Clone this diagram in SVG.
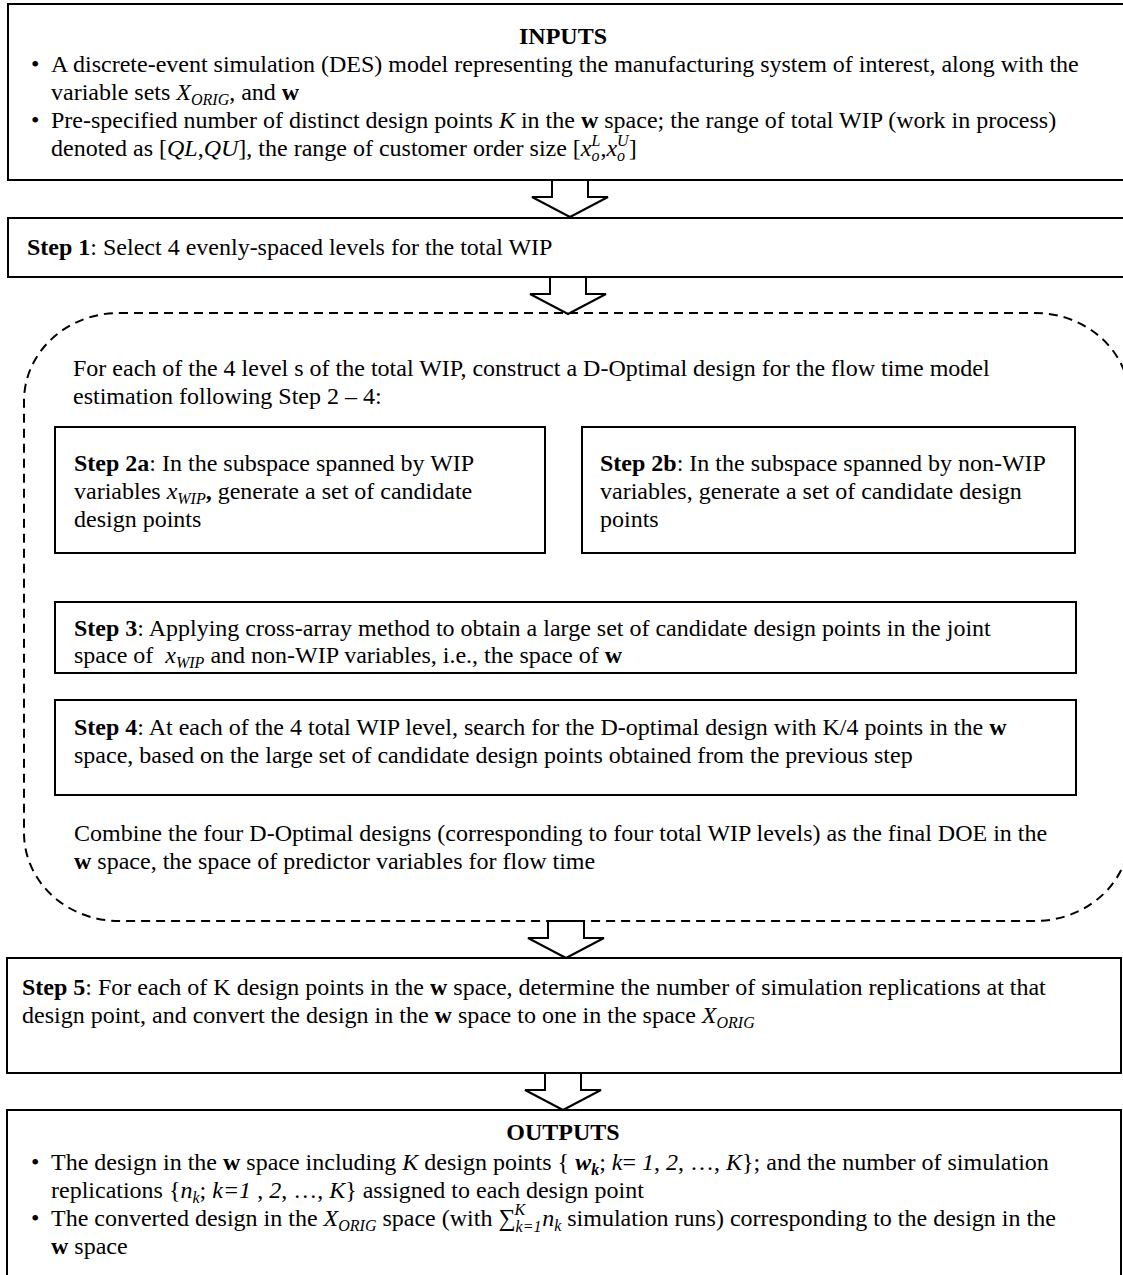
<svg xmlns="http://www.w3.org/2000/svg" width="1123" height="1275" viewBox="0 0 1123 1275">
<style>
text{font-family:"Liberation Serif","Times New Roman",serif;font-size:24px;fill:#000}
.b{font-weight:bold}
.i{font-style:italic}
.s{font-size:16px;font-style:italic}
.box{fill:#fff;stroke:#000;stroke-width:2}
.dash{fill:none;stroke:#000;stroke-width:2;stroke-dasharray:9 6}
.arr{fill:#fff;stroke:#000;stroke-width:2;stroke-linejoin:miter}
</style>
<rect width="1123" height="1275" fill="#fff"/>
<g id="inputs">
<rect class="box" x="8" y="4" width="1130" height="176" stroke-width="2.5"/>
<text class="b" x="563" y="44" text-anchor="middle">INPUTS</text>
<text x="31" y="72">•</text>
<text x="51" y="72">A discrete-event simulation (DES) model representing the manufacturing system of interest, along with the</text>
<text x="51" y="100">variable sets <tspan class="i">X</tspan><tspan class="s" dy="5">ORIG</tspan><tspan dy="-5">,  and </tspan><tspan class="b">w</tspan></text>
<text x="31" y="128">•</text>
<text x="51" y="128">Pre-specified number of distinct design points <tspan class="i">K</tspan> in the <tspan class="b">w</tspan> space; the range of total WIP (work in process)</text>
<text x="51" y="156">denoted as [<tspan class="i">QL</tspan>,<tspan class="i">QU</tspan>], the range of customer order size [<tspan class="i">x</tspan><tspan class="s" dy="5">o</tspan><tspan class="s" dx="-8" dy="-15">L</tspan><tspan dy="10">,</tspan><tspan class="i">x</tspan><tspan class="s" dy="5">o</tspan><tspan class="s" dx="-8" dy="-15">U</tspan><tspan dy="10">]</tspan></text>
</g>
<g id="step1">
<rect class="box" x="8" y="218" width="1130" height="59"/>
<text x="27" y="255"><tspan class="b">Step 1</tspan>: Select 4 evenly-spaced levels for the total WIP</text>
</g>
<g id="loop">
<rect class="dash" x="24" y="313" width="1106" height="608" rx="95" ry="88"/>
<text x="73" y="376">For each of the 4 level s of the total WIP, construct a D-Optimal design for the flow time model</text>
<text x="73" y="404">estimation following Step 2 – 4:</text>
<text x="74" y="841">Combine the four D-Optimal designs (corresponding to four total WIP levels) as the final DOE in the</text>
<text x="74" y="869"><tspan class="b">w</tspan> space, the space of predictor variables for flow time</text>
</g>
<g id="step2a">
<rect class="box" x="55" y="427" width="490" height="126"/>
<text x="74" y="471"><tspan class="b">Step 2a</tspan>: In the subspace spanned by WIP</text>
<text x="74" y="499">variables <tspan class="i">x</tspan><tspan class="s" dy="5">WIP</tspan><tspan dy="-5" class="b">,</tspan> generate a set of candidate</text>
<text x="74" y="527">design points</text>
</g>
<g id="step2b">
<rect class="box" x="582" y="427" width="493" height="126"/>
<text x="600" y="471"><tspan class="b">Step 2b</tspan>: In the subspace spanned by non-WIP</text>
<text x="600" y="499">variables, generate a set of candidate design</text>
<text x="600" y="527">points</text>
</g>
<g id="step3">
<rect class="box" x="55" y="602" width="1021" height="71"/>
<text x="74" y="636"><tspan class="b">Step 3</tspan>: Applying cross-array method to obtain a large set of candidate design points in the joint</text>
<text x="74" y="663">space of <tspan class="i" dx="6">x</tspan><tspan class="s" dy="5">WIP</tspan><tspan dy="-5"> and non-WIP variables, i.e., the space of </tspan><tspan class="b">w</tspan></text>
</g>
<g id="step4">
<rect class="box" x="55" y="700" width="1021" height="95"/>
<text x="74" y="735"><tspan class="b">Step 4</tspan>: At each of the 4 total WIP level, search for the D-optimal design with K/4 points in the <tspan class="b">w</tspan></text>
<text x="74" y="763">space, based on the large set of candidate design points obtained from the previous step</text>
</g>
<g id="step5">
<rect class="box" x="7" y="958" width="1114" height="115"/>
<text x="22" y="995"><tspan class="b">Step 5</tspan>: For each of K design points in the <tspan class="b">w</tspan> space, determine the number of simulation replications at that</text>
<text x="22" y="1023">design point, and convert the design in the <tspan class="b">w</tspan> space to one in the space <tspan class="i">X</tspan><tspan class="s" dy="5">ORIG</tspan></text>
</g>
<g id="outputs">
<rect class="box" x="7" y="1110" width="1114" height="180"/>
<text class="b" x="563" y="1140" text-anchor="middle">OUTPUTS</text>
<text x="31" y="1170">•</text>
<text x="51" y="1170">The design in the <tspan class="b">w</tspan> space including <tspan class="i">K</tspan> design points { <tspan class="b i">w</tspan><tspan class="s b" dy="5">k</tspan><tspan dy="-5">; </tspan><tspan class="i">k</tspan>= <tspan class="i">1</tspan>, <tspan class="i">2</tspan>, …, <tspan class="i">K</tspan>}; and the number of simulation</text>
<text x="51" y="1198">replications {<tspan class="i">n</tspan><tspan class="s" dy="5">k</tspan><tspan dy="-5">; </tspan><tspan class="i">k=1</tspan> , <tspan class="i">2</tspan>, …, <tspan class="i">K</tspan>} assigned to each design point</text>
<text x="31" y="1226">•</text>
<text x="51" y="1226">The converted design in the <tspan class="i">X</tspan><tspan class="s" dy="5">ORIG</tspan><tspan dy="-5"> space (with ∑</tspan><tspan class="s" dy="6">k=1</tspan><tspan class="s" dx="-27" dy="-17">K</tspan><tspan class="i" dx="17" dy="11">n</tspan><tspan class="s" dy="5">k</tspan><tspan dy="-5"> simulation runs) corresponding to the design in the</tspan></text>
<text x="51" y="1254"><tspan class="b">w</tspan> space</text>
</g>
<g id="connectors">
<polygon class="arr" points="552,180 588,180 588,197 608,197 570,217 532,197 552,197"/>
<polygon class="arr" points="550,277 586,277 586,294 606,294 568,314 530,294 550,294"/>
<polygon class="arr" points="548,921 584,921 584,938 604,938 566,958 528,938 548,938"/>
<polygon class="arr" points="545,1073 581,1073 581,1090 601,1090 563,1110 525,1090 545,1090"/>
</g>
</svg>
